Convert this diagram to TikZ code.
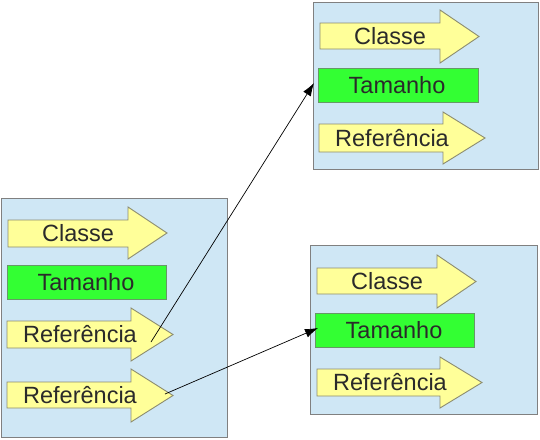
\documentclass[tikz,border=0pt]{standalone}
\usepackage{fontspec}
\setmainfont{Liberation Sans}
\definecolor{boxfill}{HTML}{CFE7F5}
\definecolor{boxline}{HTML}{808080}
\definecolor{arrfill}{HTML}{FFFF99}
\definecolor{arrline}{HTML}{8C8C70}
\definecolor{grnfill}{HTML}{33FF33}
\definecolor{grnline}{HTML}{669966}
\definecolor{txt}{HTML}{2A2A2A}
\tikzset{
  container/.style={draw=boxline, fill=boxfill, line width=0.9pt},
  blockarrow/.style={draw=arrline, fill=arrfill, line width=0.9pt},
  greenbox/.style={draw=grnline, fill=grnfill, line width=0.9pt},
  lbl/.style={text=txt, font=\fontsize{23.5}{27}\selectfont, inner sep=0pt, text height=17pt, text depth=0pt, anchor=center},
  link/.style={draw=black, line width=0.7pt, -{Latex[length=13pt,width=9pt]}}
}
\usetikzlibrary{arrows.meta}
\newcommand{\barrow}[7]{%
  \fill[blockarrow] (#1,#4) -- (#2,#4) -- (#2,#6) -- (#3,{(#6+#7)/2}) -- (#2,#7) -- (#2,#5) -- (#1,#5) -- cycle;}
\begin{document}
\begin{tikzpicture}[x=1pt,y=-1pt]
\useasboundingbox (0,0) rectangle (540,439);
% containers
\node[container, minimum width=226pt, minimum height=239pt, inner sep=0pt] (L) at (114,317.5) {};
\node[container, minimum width=225pt, minimum height=167pt, inner sep=0pt] (TR) at (425.5,85.5) {};
\node[container, minimum width=227pt, minimum height=169pt, inner sep=0pt] (BR) at (423.5,329.5) {};
% left box
\barrow{8}{128}{167}{220}{247}{207}{259}
\node[lbl] (LC) at (78,232.5) {Classe};
\node[greenbox, minimum width=159pt, minimum height=34pt, inner sep=0pt] (LTb) at (86.5,282) {};
\node[lbl] (LT) at (86,281.5) {Tamanho};
\barrow{7}{131}{173}{321}{348}{308}{361}
\node[lbl] (LR1) at (80,333.5) {Referência};
\barrow{7}{131}{173}{382}{408}{369}{422}
\node[lbl] (LR2) at (80,394.5) {Referência};
% top right box
\barrow{320}{440}{479}{23}{49}{10}{63}
\node[lbl] (TC) at (390,35.5) {Classe};
\node[greenbox, minimum width=160pt, minimum height=34pt, inner sep=0pt] (TTb) at (398,85) {};
\node[lbl] (TT) at (397,84.5) {Tamanho};
\barrow{319}{443}{485}{124}{152}{112}{164}
\node[lbl] (TRf) at (392,137.5) {Referência};
% bottom right box
\barrow{317}{437}{476}{268}{294}{255}{308}
\node[lbl] (BC) at (387,280.5) {Classe};
\node[greenbox, minimum width=159pt, minimum height=34pt, inner sep=0pt] (BTb) at (394.5,330) {};
\node[lbl] (BT) at (394,329.5) {Tamanho};
\barrow{317}{440}{482}{369}{396}{357}{408}
\node[lbl] (BRf) at (390,381.5) {Referência};
% connectors
\coordinate (s1) at (151,342);
\coordinate (s2) at (165,394);
\coordinate (e1) at (314,83);
\coordinate (e2) at (318,328);
\draw[link] (s1) -- (e1);
\draw[link] (s2) -- (e2);
\end{tikzpicture}
\end{document}
